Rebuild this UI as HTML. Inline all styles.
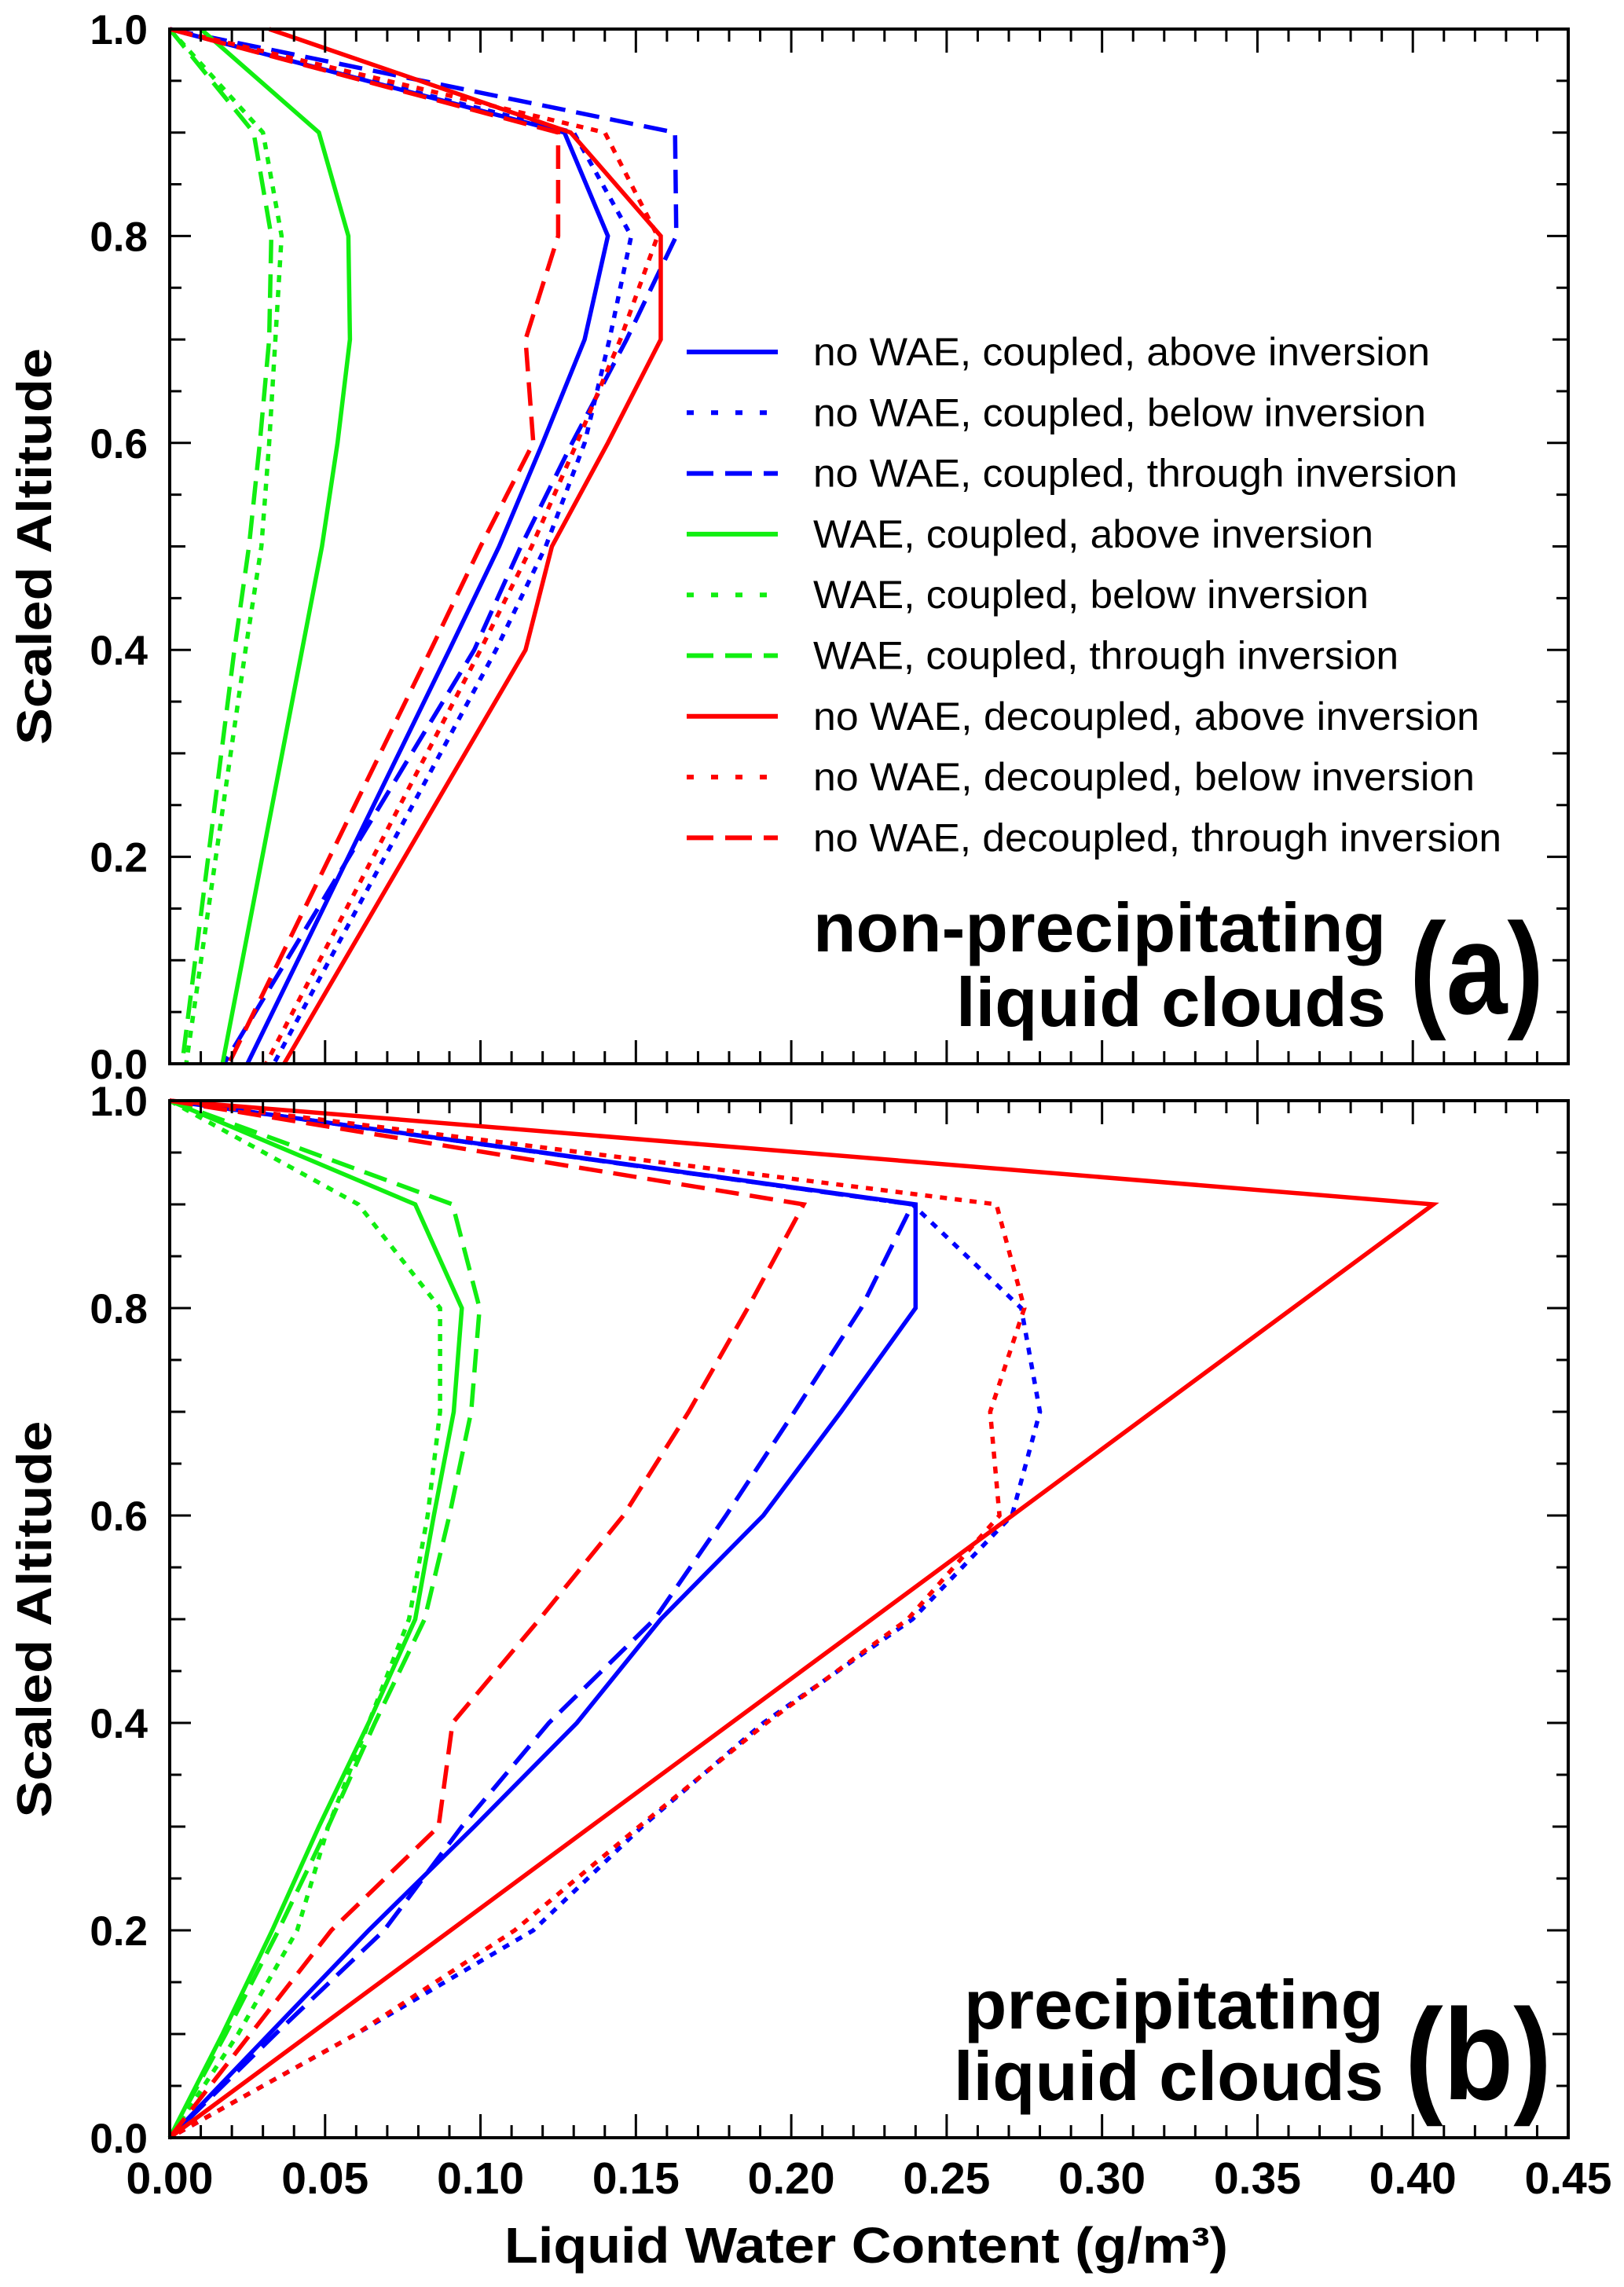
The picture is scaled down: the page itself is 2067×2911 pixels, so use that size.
<!DOCTYPE html>
<html><head><meta charset="utf-8"><style>
html,body{margin:0;padding:0;background:#fff;}
svg{display:block;font-family:"Liberation Sans",Arial,sans-serif;}
</style></head><body>
<svg id="chart" width="2067" height="2911" viewBox="0 0 2067 2911" xmlns="http://www.w3.org/2000/svg">
<rect width="2067" height="2911" fill="#fff"/>
<g id="layer"></g>
</svg>
<script>
// shared altitude levels
const altA = [1.0, 0.9, 0.8, 0.7, 0.6, 0.5, 0.4, 0.0];
// Panel (a) non-precipitating: LWC at each altitude in altA
const a_blueSolid  = [0.000, 0.127, 0.141, 0.1335, 0.120, 0.106, 0.090, 0.025];
const a_blueDot    = [0.000, 0.130, 0.1485, 0.1415, 0.1335, 0.121, 0.105, 0.0335];
const a_blueDash   = [0.000, 0.1626, 0.163, 0.147, 0.1295, 0.113, 0.098, 0.0175];
const a_greenSolid = [0.010, 0.048, 0.0575, 0.058, 0.054, 0.049, 0.0426, 0.017];
const a_greenDot   = [0.000, 0.030, 0.036, 0.034, 0.032, 0.0295, 0.0244, 0.0053];
const a_greenDash  = [0.000, 0.027, 0.0327, 0.032, 0.029, 0.0255, 0.0208, 0.004];
const a_redSolid   = [0.032, 0.129, 0.158, 0.158, 0.141, 0.123, 0.1145, 0.0368];
const a_redDot     = [0.000, 0.140, 0.157, 0.145, 0.131, 0.1165, 0.100, 0.031];
const a_redDash    = [0.000, 0.125, 0.125, 0.1145, 0.117, 0.100, 0.084, 0.019];
// Panel (b) precipitating
const altB = [1.0, 0.9, 0.8, 0.7, 0.6, 0.5, 0.4, 0.3, 0.2, 0.1, 0.0];
const b_blueSolid  = [0.000, 0.240, 0.240, 0.216, 0.191, 0.158, 0.131, 0.098, 0.064, 0.032, 0.000];
const b_blueDot    = [0.000, 0.239, 0.274, 0.280, 0.271, 0.239, 0.191, 0.152, 0.117, 0.060, 0.000];
const b_blueDash   = [0.000, 0.239, 0.2225, 0.201, 0.179, 0.156, 0.122, 0.094, 0.069, 0.034, 0.000];
const b_greenSolid = [0.000, 0.079, 0.094, 0.0914, 0.085, 0.079, 0.064, 0.048, 0.033, 0.017, 0.000];
const b_greenDot   = [0.000, 0.0607, 0.087, 0.087, 0.083, 0.077, 0.064, 0.051, 0.041, 0.022, 0.000];
const b_greenDash  = [0.000, 0.091, 0.0997, 0.097, 0.090, 0.082, 0.066, 0.051, 0.035, 0.018, 0.000];
const b_redSolid   = [0.000, 0.4066, 0.3614, 0.3162, 0.2711, 0.2259, 0.1807, 0.1355, 0.0904, 0.0452, 0.000];
const b_redDot     = [0.000, 0.266, 0.275, 0.264, 0.267, 0.2375, 0.192, 0.151, 0.111, 0.060, 0.000];
const b_redDash    = [0.000, 0.204, 0.186, 0.167, 0.146, 0.119, 0.091, 0.0865, 0.052, 0.026, 0.000];
const xTickLabels = ["0.00","0.05","0.10","0.15","0.20","0.25","0.30","0.35","0.40","0.45"];
const yTickLabels = ["0.0","0.2","0.4","0.6","0.8","1.0"];
const legendLabels = ["no WAE, coupled, above inversion","no WAE, coupled, below inversion","no WAE, coupled, through inversion","WAE, coupled, above inversion","WAE, coupled, below inversion","WAE, coupled, through inversion","no WAE, decoupled, above inversion","no WAE, decoupled, below inversion","no WAE, decoupled, through inversion"];

const NS = "http://www.w3.org/2000/svg";
const layer = document.getElementById('layer');
function mk(tag, attrs, parent) {
  const e = document.createElementNS(NS, tag);
  for (const k in attrs) e.setAttribute(k, attrs[k]);
  (parent || layer).appendChild(e);
  return e;
}
const X0 = 216, X1 = 1996, XMAX = 0.45;
function xs(v) { return X0 + (X1 - X0) * v / XMAX; }
function makeY(top, bottom) { return v => bottom - (bottom - top) * v; }
const COL = {blue: "#0000ff", green: "#11ee11", red: "#ff0000"};
const DASH = {solid: "", dot: "9,10", dash: "30,14"};
const LEGDASH = {solid: "", dot: "9,22", dash: "34,15"};

function drawPanel(id, top, bottom, alt, series, showX) {
  const ys = makeY(top, bottom);
  const g = mk('g', {});
  
  
  series.forEach(s => {
    const pts = s.vals.map((v, i) => xs(v).toFixed(1) + ',' + ys(alt[i]).toFixed(1)).join(' ');
    const p = mk('polyline', {points: pts, fill: 'none', stroke: COL[s.c], 'stroke-width': 5.5,
      'stroke-linejoin': 'miter', 'stroke-dasharray': DASH[s.d]}, g);
    
    
  });
  const fr = mk('rect', {x: X0, y: top, width: X1 - X0, height: bottom - top, fill: 'none', stroke: '#000', 'stroke-width': 4}, g);
  
  
  for (let i = 0; i <= 45; i++) {
    const v = i / 100, x = xs(v);
    const L = (i % 5 === 0) ? 30 : 16;
    mk('line', {x1: x, x2: x, y1: bottom, y2: bottom - L, stroke: '#000', 'stroke-width': 3}, g);
    mk('line', {x1: x, x2: x, y1: top, y2: top + L, stroke: '#000', 'stroke-width': 3}, g);
  }
  for (let i = 0; i <= 20; i++) {
    const v = i / 20, y = ys(v);
    const L = (i % 4 === 0) ? 27 : (i % 2 === 0 ? 20 : 15);
    mk('line', {x1: X0, x2: X0 + L, y1: y, y2: y, stroke: '#000', 'stroke-width': 3}, g);
    mk('line', {x1: X1, x2: X1 - L, y1: y, y2: y, stroke: '#000', 'stroke-width': 3}, g);
  }
  yTickLabels.forEach((t, i) => {
    const tx = mk('text', {x: 188, y: ys(i * 0.2) + 19, 'text-anchor': 'end', 'font-size': 53, 'font-weight': 'bold'}, g);
    tx.textContent = t;
    
    
  });
  if (showX) {
    xTickLabels.forEach((t, i) => {
      const tx = mk('text', {x: xs(i * 0.05), y: 2792, 'text-anchor': 'middle', 'font-size': 57, 'font-weight': 'bold'}, g);
      tx.textContent = t;
      
      
    });
  }
  const cy = (top + bottom) / 2;
  const yt = mk('text', {x: 0, y: 0, transform: 'translate(65,' + cy + ') rotate(-90)', 'text-anchor': 'middle',
    'font-size': 62, 'font-weight': 'bold', textLength: 505, lengthAdjust: 'spacingAndGlyphs'}, g);
  yt.textContent = 'Scaled Altitude';
  
  
  return g;
}

const mkS = (name, c, d, vals) => ({name, c, d, vals});
const ga = drawPanel('a', 37, 1354, altA, [
  mkS('nowae-coupled-above','blue','solid',a_blueSolid), mkS('nowae-coupled-below','blue','dot',a_blueDot),
  mkS('nowae-coupled-through','blue','dash',a_blueDash), mkS('wae-coupled-above','green','solid',a_greenSolid),
  mkS('wae-coupled-below','green','dot',a_greenDot), mkS('wae-coupled-through','green','dash',a_greenDash),
  mkS('nowae-decoupled-above','red','solid',a_redSolid), mkS('nowae-decoupled-below','red','dot',a_redDot),
  mkS('nowae-decoupled-through','red','dash',a_redDash)], false);
const gb = drawPanel('b', 1401, 2721, altB, [
  mkS('nowae-coupled-above','blue','solid',b_blueSolid), mkS('nowae-coupled-below','blue','dot',b_blueDot),
  mkS('nowae-coupled-through','blue','dash',b_blueDash), mkS('wae-coupled-above','green','solid',b_greenSolid),
  mkS('wae-coupled-below','green','dot',b_greenDot), mkS('wae-coupled-through','green','dash',b_greenDash),
  mkS('nowae-decoupled-above','red','solid',b_redSolid), mkS('nowae-decoupled-below','red','dot',b_redDot),
  mkS('nowae-decoupled-through','red','dash',b_redDash)], true);

const legStyles = [['blue','solid'],['blue','dot'],['blue','dash'],['green','solid'],['green','dot'],['green','dash'],['red','solid'],['red','dot'],['red','dash']];
const legWidths = [785, 780, 820, 713, 707, 745, 848, 842, 876];
const lg = mk('g', {});


legendLabels.forEach((t, i) => {
  const base = 465 + i * 77.3;
  const ln = mk('line', {x1: 874, x2: 990, y1: base - 17, y2: base - 17, stroke: COL[legStyles[i][0]], 'stroke-width': 6, 'stroke-dasharray': LEGDASH[legStyles[i][1]]}, lg);
  
  
  const tx = mk('text', {x: 1035, y: base, 'font-size': 50, textLength: legWidths[i], lengthAdjust: 'spacingAndGlyphs'}, lg);
  tx.textContent = t;
  
  
});

function ann(txt, right, base, size, width, name) {
  const t = mk('text', {x: right - width, y: base, 'font-size': size, 'font-weight': 'bold', textLength: width, lengthAdjust: 'spacingAndGlyphs'});
  t.textContent = txt;
  
  
}
ann('non-precipitating', 1764, 1211, 88, 729, 'panel-a-title-line1');
ann('liquid clouds', 1764, 1306, 88, 547, 'panel-a-title-line2');
ann('(a)', 1965, 1290, 165, 171, 'panel-a-label');
ann('precipitating', 1761, 2582, 88, 534, 'panel-b-title-line1');
ann('liquid clouds', 1761, 2673, 88, 547, 'panel-b-title-line2');
ann('(b)', 1975, 2672, 165, 187, 'panel-b-label');

const xt = mk('text', {x: 642, y: 2880, 'font-size': 64, 'font-weight': 'bold', textLength: 921, lengthAdjust: 'spacingAndGlyphs'});
xt.textContent = 'Liquid Water Content (g/m³)';


</script>
</body></html>
